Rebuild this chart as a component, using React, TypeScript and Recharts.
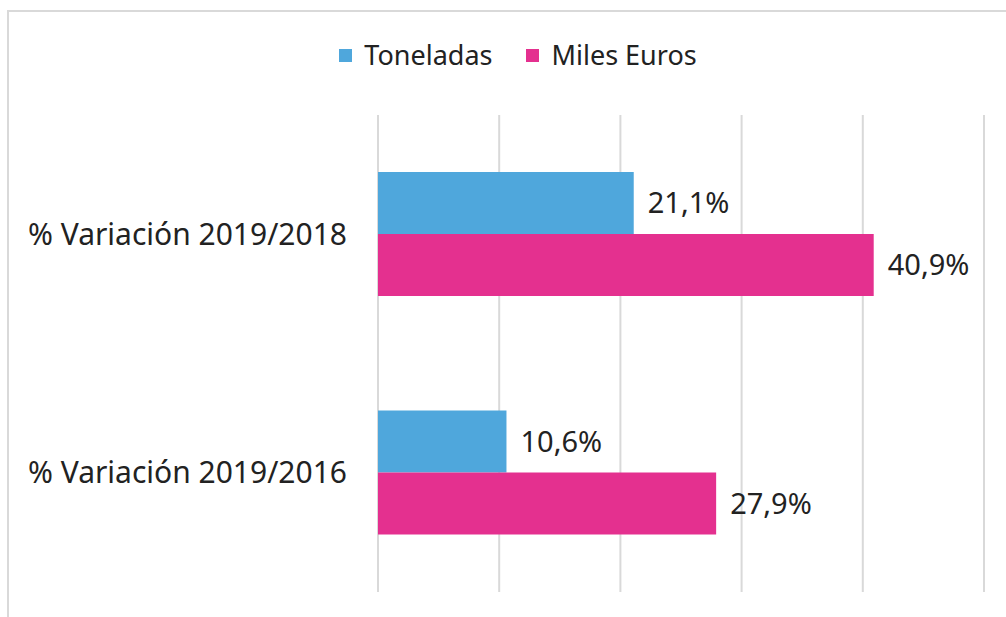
import { Bar, BarChart, CartesianGrid, LabelList, XAxis, YAxis } from "recharts";

const categories = ["% Variación 2019/2018", "% Variación 2019/2016"];
const toneladas = [21.1, 10.6];
const milesEuros = [40.9, 27.9];
const xTicks = [0, 10, 20, 30, 40, 50];

const data = categories.map((name, i) => ({
  name,
  toneladas: toneladas[i],
  milesEuros: milesEuros[i],
}));

const FONT = "'Noto Sans', sans-serif";
const fmt = (v: any) => `${Number(v).toFixed(1).replace(".", ",")}%`;

const legendItems = [
  { label: "Toneladas", color: "#4fa7dc" },
  { label: "Miles Euros", color: "#e4308f" },
];

function LegendBox() {
  return (
    <div
      style={{
        position: "absolute",
        top: 36,
        left: 0,
        width: 1006,
        display: "flex",
        justifyContent: "center",
        paddingLeft: 30,
        boxSizing: "border-box",
        gap: 34,
        fontFamily: FONT,
        fontSize: 27,
        lineHeight: "38px",
        color: "#222",
      }}
    >
      {legendItems.map((it) => (
        <div key={it.label} style={{ display: "flex", alignItems: "center", gap: 12 }}>
          <span style={{ width: 13, height: 13, background: it.color, display: "inline-block" }} />
          <span>{it.label}</span>
        </div>
      ))}
    </div>
  );
}

export default function App() {
  return (
    <div style={{ position: "absolute", left: 0, top: 0, width: 1006, height: 617, overflow: "hidden", background: "#fff" }}>
      <div style={{ position: "absolute", left: 7, top: 10, width: 1100, height: 700, border: "2px solid #d9d9d9" }} />
      <div style={{ position: "absolute", left: 0, top: 0 }}>
        <BarChart
          width={1006}
          height={617}
          data={data}
          layout="vertical"
          margin={{ top: 115, right: 22, bottom: 25, left: 0 }}
          barCategoryGap={57}
          barGap={0}
        >
          <CartesianGrid horizontal={false} stroke="#d9d9d9" strokeWidth={2} />
          <XAxis type="number" domain={[0, 50]} ticks={xTicks} hide />
          <YAxis
            type="category"
            dataKey="name"
            width={378}
            axisLine={false}
            tickLine={false}
            tickSize={0}
            tickMargin={31}
            tick={{ fontFamily: FONT, fontSize: 30, fill: "#222" }}
          />
          <Bar dataKey="toneladas" fill="#4fa7dc" isAnimationActive={false}>
            <LabelList dataKey="toneladas" position="right" offset={14} formatter={fmt} style={{ fontFamily: FONT, fontSize: 29, fill: "#222" }} />
          </Bar>
          <Bar dataKey="milesEuros" fill="#e4308f" isAnimationActive={false}>
            <LabelList dataKey="milesEuros" position="right" offset={14} formatter={fmt} style={{ fontFamily: FONT, fontSize: 29, fill: "#222" }} />
          </Bar>
        </BarChart>
      </div>
      <LegendBox />
    </div>
  );
}
